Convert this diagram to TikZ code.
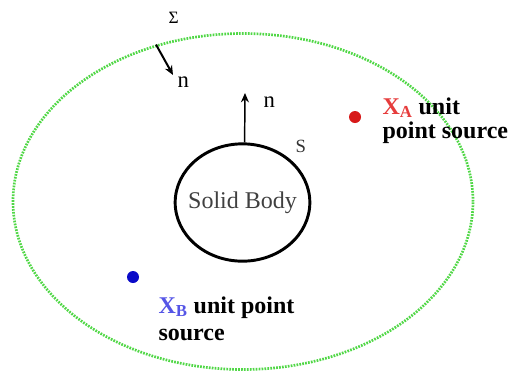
\documentclass[tikz,border=0pt]{standalone}
\usepackage{fontspec}
\setmainfont{Liberation Serif}
\usetikzlibrary{shapes.geometric,arrows.meta}

\definecolor{dotgreen}{RGB}{80,215,70}
\definecolor{srcred}{RGB}{215,25,25}
\definecolor{srcblue}{RGB}{10,10,200}
\definecolor{labred}{RGB}{230,60,60}
\definecolor{labblue}{RGB}{85,85,230}

\tikzset{every picture/.style={line width=0.75pt}}
\tikzset{
  srcdot/.style={circle, inner sep=0pt, minimum size=9pt},
  nvec/.style={-{Stealth[length=7pt,width=6pt]}},
  srclabel/.style={anchor=north west, inner sep=0pt, align=left, font=\bfseries\fontsize{18}{18}\selectfont},
}

\begin{document}
\begin{tikzpicture}[x=0.75pt,y=0.75pt,yscale=-1,xscale=1]
		\useasboundingbox (0,0) rectangle (509,380);
		
		%Ellipse [surface Sigma]
		\node [draw=dotgreen, line width=2pt, dash pattern={on 1.3pt off 0.9pt}, ellipse, minimum width=345pt, minimum height=252pt, inner sep=0pt] (surf) at (243,201.5) {};
		%Ellipse [solid body S]
		\node [draw, line width=2.2pt, ellipse, minimum width=101pt, minimum height=88pt, inner sep=0pt] (body) at (242.5,202.5) {};
		% Text Node
		\node [inner sep=0pt, font=\fontsize{18}{20}\selectfont, text=black!75] (bodytext) at (body.center) {Solid Body};
		
		%Arrows [normals]
		\coordinate (tipsurf) at (173,75);
		\coordinate (tipbody) at (245,93);
		\draw [nvec, line width=1.5pt] (surf.119) -- (tipsurf);
		\draw [nvec, line width=1.1pt] (body.88) -- (tipbody);
		
		% Text Node
		\draw (168,23) node [anchor=base west][inner sep=0pt][font=\fontsize{13}{15}\selectfont] (sigma) {Σ};
		% Text Node
		\draw (177,87) node [anchor=base west][inner sep=0pt][font=\fontsize{17}{19}\selectfont] (nsurf) {n};
		% Text Node
		\draw (263,107) node [anchor=base west][inner sep=0pt][font=\fontsize{17}{19}\selectfont] (nbody) {n};
		% Text Node
		\draw (295,152) node [anchor=base west][inner sep=0pt][font=\fontsize{14}{16}\selectfont, text=black!80] (slab) {S};
		
		%Point sources
		\node [srcdot, fill=srcred] (xa) at (355,117) {};
		\node [srcdot, fill=srcblue] (xb) at (133,277) {};
		% Text Node
		\node [srclabel] (xalab) at (382,97) {\textcolor{labred}{X\textsubscript{A}} unit\\point source};
		% Text Node
		\node [srclabel, font=\bfseries\fontsize{18}{20.5}\selectfont] (xblab) at (158,296) {\textcolor{labblue}{X\textsubscript{B}} unit point\\source};
\end{tikzpicture}
\end{document}
